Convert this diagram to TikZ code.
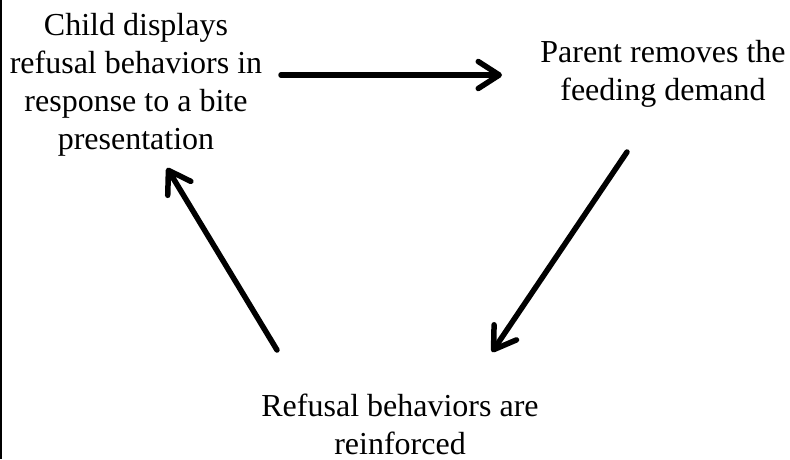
\documentclass[tikz,border=0pt]{standalone}
\usepackage{fontspec}
\setmainfont{Liberation Serif}
\usetikzlibrary{arrows.meta}
\begin{document}
\begin{tikzpicture}[x=1pt,y=-1pt,
  lbl/.style={align=center,font=\fontsize{32}{38}\selectfont,inner sep=0pt,anchor=base},
  arr/.style={line width=5.5pt,line cap=round,
    -{Straight Barb[length=21pt,width=27pt,line cap=round,line join=round]}}]
\useasboundingbox (0,0) rectangle (790,459);
\draw[line width=2pt] (1,0) -- (1,459);
\node[lbl] (child) at (136,149) {Child displays\\refusal behaviors in\\response to a bite\\presentation};
\node[lbl] (parent) at (663,100) {Parent removes the\\feeding demand};
\node[lbl] (reinf) at (400,454) {Refusal behaviors are\\reinforced};
\coordinate (a1s) at (281,75);
\coordinate (a1e) at (502,75);
\coordinate (a2s) at (627,152);
\coordinate (a2e) at (492,352);
\coordinate (a3s) at (277,350);
\coordinate (a3e) at (167,168);
\draw[arr] (a1s) -- (a1e);
\draw[arr] (a2s) -- (a2e);
\draw[arr] (a3s) -- (a3e);
\end{tikzpicture}
\end{document}
